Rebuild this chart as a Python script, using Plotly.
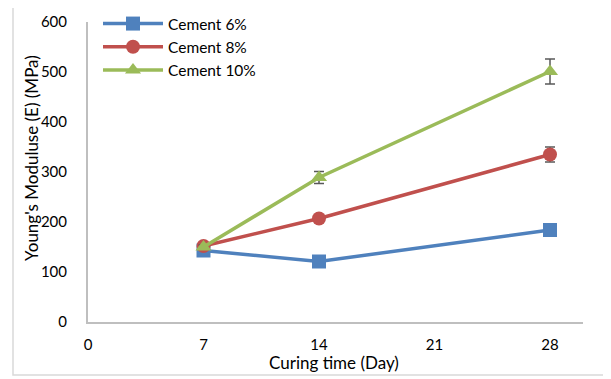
import plotly.graph_objects as go

days = [7, 14, 28]
cement6 = [143, 121, 184]
cement8 = [152, 207, 335]
cement10 = [150, 289, 501]
err6 = [3, 4, 5]
err8 = [5, 7, 15]
err10 = [4, 12, 25]
x_ticks = [0, 7, 14, 21, 28]
y_ticks = [0, 100, 200, 300, 400, 500, 600]

series = [
    ("Cement 6%", cement6, err6, "#4F81BD", "square"),
    ("Cement 8%", cement8, err8, "#C0504D", "circle"),
    ("Cement 10%", cement10, err10, "#9BBB59", "triangle-up"),
]

# the page body adds an 8px offset; compensate so the picture lines up
OFF = 8
# plot area in target pixels: x 88..583, y 22..322
L, R, T, B = 88, 583, 22, 322
W, H = R - L, B - T

def px(x):
    return (x - L) / W

def py(y):
    return (B - y) / H

fig = go.Figure()
for name, vals, errs, color, sym in series:
    fig.add_trace(go.Scatter(
        x=days, y=vals, name=name, mode="lines+markers",
        line=dict(color=color, width=3.5),
        marker=dict(symbol=sym, size=14, color=color),
        error_y=dict(type="data", array=errs, visible=True,
                     color="#595959", thickness=1.5, width=5),
    ))

font = "Lato, Open Sans, sans-serif"
fig.update_layout(
    width=611, height=379,
    margin=dict(l=L - OFF, r=611 - R + OFF, t=T - OFF, b=379 - B + OFF,
                autoexpand=False),
    paper_bgcolor="white", plot_bgcolor="white",
    font=dict(family=font, size=15, color="#000000"),
    showlegend=True,
    legend=dict(x=px(98), y=py(7), xanchor="left", yanchor="top",
                bgcolor="rgba(0,0,0,0)", font=dict(size=15.5),
                itemwidth=60, tracegroupgap=0),
    xaxis=dict(range=[0, 30], tickvals=x_ticks, showgrid=False, zeroline=False,
               showline=True, linecolor="#BFBFBF", linewidth=2,
               ticks="", ticklabelstandoff=8, automargin=False,
               tickfont=dict(size=15)),
    yaxis=dict(range=[0, 600], tickvals=y_ticks, showgrid=False, zeroline=False,
               showline=True, linecolor="#BFBFBF", linewidth=2,
               ticks="", ticklabelstandoff=16, automargin=False,
               tickfont=dict(size=15)),
    annotations=[
        dict(text="Curing time (Day)", xref="paper", yref="paper",
             x=px(334), y=py(362), showarrow=False, font=dict(size=17),
             xanchor="center", yanchor="middle"),
        dict(text="Young's Moduluse (E) (MPa)", xref="paper", yref="paper",
             x=px(31), y=py(158), showarrow=False, font=dict(size=17),
             textangle=-90, xanchor="center", yanchor="middle"),
    ],
    shapes=[dict(type="rect", xref="paper", yref="paper",
                 x0=px(13), x1=px(607), y0=py(375), y1=py(3),
                 line=dict(color="#D9D9D9", width=1.5), fillcolor="rgba(0,0,0,0)",
                 layer="below")],
)

fig.write_html("out.html")
